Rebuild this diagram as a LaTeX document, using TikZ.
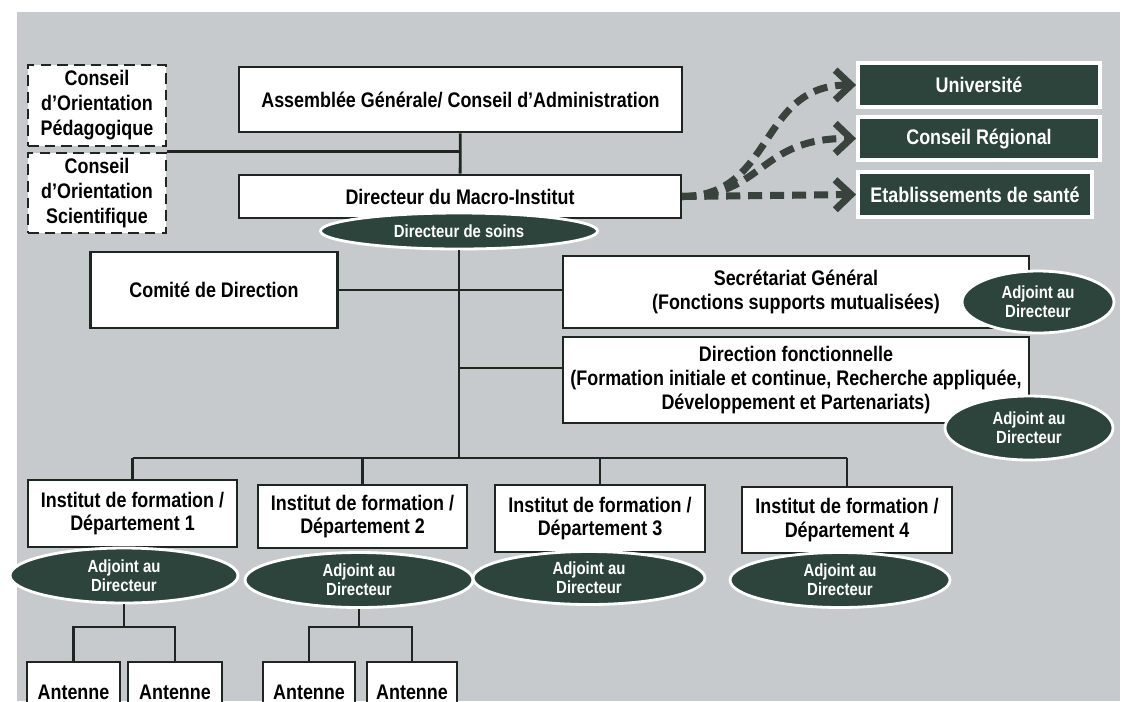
\documentclass[tikz,border=0pt]{standalone}
\usepackage{fontspec}
\setmainfont{Liberation Sans}[FakeStretch=0.85]
\usetikzlibrary{shapes.geometric, arrows.meta, calc}

\definecolor{panelgray}{RGB}{199,202,204}
\definecolor{darkgreen}{RGB}{45,68,60}
\definecolor{linecol}{RGB}{30,38,34}
\definecolor{arrowcol}{RGB}{58,66,62}

\tikzset{
  box/.style={draw=linecol, line width=1.5pt, fill=white, align=center, inner sep=2pt,
    font=\fontsize{12}{13.5}\selectfont\bfseries},
  councilbox/.style={box, dash pattern=on 6pt off 3.5pt,
    font=\fontsize{12}{14.2}\selectfont\bfseries},
  partnerbox/.style={draw=white, line width=2.2pt, fill=darkgreen, text=white, inner sep=2pt,
    font=\fontsize{12}{13.5}\selectfont\bfseries},
  adjoint/.style={ellipse, draw=white, line width=1.6pt, fill=darkgreen, text=white,
    inner sep=0pt, align=center, font=\fontsize{10}{11}\selectfont\bfseries},
  link/.style={draw=linecol, line width=1.6pt},
  partnerlink/.style={draw=arrowcol, line width=4pt, dash pattern=on 8pt off 4.5pt,
    -{Straight Barb[length=9pt,width=17pt]}},
}

\begin{document}
\begin{tikzpicture}[x=0.02cm, y=-0.02cm]
  % page and grey panel
  \useasboundingbox (0,0) rectangle (1125,701);
  \clip (0,0) rectangle (1125,701);
  \fill[panelgray] (17,12) rectangle (1120,701);

  % Councils
  \node[councilbox, minimum width=2.76cm, minimum height=1.62cm] (cop) at (97,105.5) {Conseil\\d’Orientation\\Pédagogique};
  \node[councilbox, minimum width=2.76cm, minimum height=1.60cm] (cos) at (97,193) {Conseil\\d’Orientation\\Scientifique};

  % Top of the chart
  \node[box, minimum width=8.86cm, minimum height=1.30cm] (assemblee) at (460.5,99.5) {Assemblée Générale/ Conseil d’Administration};
  \node[box, minimum width=8.84cm, minimum height=0.86cm] (directeur) at (460,196.5) {Directeur du Macro-Institut};
  \node[adjoint, minimum width=5.54cm, minimum height=0.72cm] (soins) at (459,231) {Directeur de soins};

  % Partners
  \node[partnerbox, minimum width=4.84cm, minimum height=0.88cm] (univ) at (979,85) {Université};
  \node[partnerbox, minimum width=4.84cm, minimum height=0.86cm] (region) at (979,138.5) {Conseil Régional};
  \node[partnerbox, minimum width=4.68cm, minimum height=0.90cm] (sante) at (975,194.5) {Etablissements de santé};

  % Direction level
  \node[box, minimum width=4.94cm, minimum height=1.52cm] (comite) at (214,290) {Comité de Direction};
  \node[box, minimum width=9.32cm, minimum height=1.44cm] (secretariat) at (796,292) {Secrétariat Général\\(Fonctions supports mutualisées)};
  \node[adjoint, minimum width=3.04cm, minimum height=1.24cm] (adjsg) at (1038,302) {Adjoint au\\Directeur};
  \node[box, minimum width=9.32cm, minimum height=1.72cm] (fonction) at (796,380) {Direction fonctionnelle\\(Formation initiale et continue, Recherche appliquée,\\Développement et Partenariats)};
  \node[adjoint, minimum width=3.36cm, minimum height=1.28cm] (adjdf) at (1029,428) {Adjoint au\\Directeur};

  % Institutes
  \node[box, minimum width=4.18cm, minimum height=1.34cm] (inst1) at (132.5,513.5) {Institut de formation /\\Département 1};
  \node[box, minimum width=4.18cm, minimum height=1.26cm] (inst2) at (362.5,516.5) {Institut de formation /\\Département 2};
  \node[box, minimum width=4.20cm, minimum height=1.34cm] (inst3) at (600,518.5) {Institut de formation /\\Département 3};
  \node[box, minimum width=4.20cm, minimum height=1.32cm] (inst4) at (847,520) {Institut de formation /\\Département 4};
  \node[adjoint, minimum width=4.56cm, minimum height=1.10cm] (adj1) at (124,575.5) {Adjoint au\\Directeur};
  \node[adjoint, minimum width=4.56cm, minimum height=1.10cm] (adj2) at (359,580) {Adjoint au\\Directeur};
  \node[adjoint, minimum width=4.64cm, minimum height=1.06cm] (adj3) at (589,578) {Adjoint au\\Directeur};
  \node[adjoint, minimum width=4.40cm, minimum height=1.10cm] (adj4) at (840,580) {Adjoint au\\Directeur};

  % Antennas
  \node[box, minimum width=1.86cm, minimum height=1.2cm] (ant1) at (73.5,692) {Antenne};
  \node[box, minimum width=1.88cm, minimum height=1.2cm] (ant2) at (175,692) {Antenne};
  \node[box, minimum width=1.84cm, minimum height=1.2cm] (ant3) at (309,692) {Antenne};
  \node[box, minimum width=1.80cm, minimum height=1.2cm] (ant4) at (412,692) {Antenne};

  % Links
  \coordinate (bus) at (457,458);
  \coordinate (fork1) at (124,627);
  \coordinate (fork2) at (359,627);
  \draw[link] (cos.north east) -- (cos.north east -| assemblee.south);
  \draw[link] (assemblee) -- (directeur);
  \draw[link] (soins.south) -- (soins.south |- bus);
  \draw[link] (comite.east) -- (comite.east -| secretariat.west);
  \draw[link] (soins.south |- 0,368) -- (fonction.west |- 0,368);
  \draw[link] (inst1.north |- bus) -- (inst4.north |- bus);
  \draw[link] (inst1.north) -- (inst1.north |- bus);
  \draw[link] (inst2.north) -- (inst2.north |- bus);
  \draw[link] (inst3.north) -- (inst3.north |- bus);
  \draw[link] (inst4.north) -- (inst4.north |- bus);
  \draw[link] (adj1.south) -- (fork1);
  \draw[link] (ant1.north) |- (fork1) -| (ant2.north);
  \draw[link] (adj2.south) -- (fork2);
  \draw[link] (ant3.north) |- (fork2) -| (ant4.north);

  % Partner arrows
  \draw[partnerlink] (directeur.east) -- (sante.west);
  \draw[partnerlink] (directeur.east) .. controls (765,196) and (758,138) .. (region.west);
  \draw[partnerlink] (directeur.east) .. controls (775,196) and (758,85) .. (univ.west);
\end{tikzpicture}
\end{document}
